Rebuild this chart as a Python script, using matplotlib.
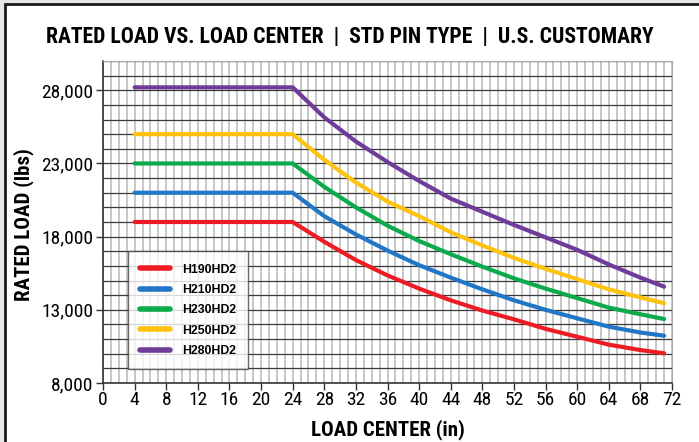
import matplotlib.pyplot as plt
from matplotlib.patches import Rectangle
from matplotlib.ticker import FuncFormatter, MultipleLocator
from matplotlib import font_manager

# Load center (in) sample points
load_center = [4, 24, 28, 32, 36, 40, 44, 48, 52, 56, 60, 64, 68, 71]

# Rated load (lbs) for each model
h190 = [19000, 19000, 17650, 16400, 15350, 14450, 13650, 12950, 12350, 11700, 11160, 10620, 10250, 10030]
h210 = [21000, 21000, 19400, 18150, 17050, 16050, 15200, 14400, 13650, 13000, 12420, 11850, 11450, 11230]
h230 = [23000, 23000, 21400, 20000, 18750, 17700, 16800, 15950, 15150, 14450, 13800, 13150, 12700, 12370]
h250 = [25000, 25000, 23250, 21700, 20400, 19400, 18300, 17400, 16550, 15800, 15100, 14400, 13850, 13450]
h280 = [28200, 28200, 26150, 24500, 23100, 21800, 20600, 19700, 18800, 17950, 17100, 16100, 15200, 14580]

models = ['H190HD2', 'H210HD2', 'H230HD2', 'H250HD2', 'H280HD2']
series = [h190, h210, h230, h250, h280]
colors = ['#ED1C24', '#2176C7', '#0BAA4B', '#FFC20E', '#6F3C9A']

# pick a narrow font if one is installed
names = {f.name for f in font_manager.fontManager.ttflist}
narrow = 'DejaVu Sans'
for cand in ['Roboto Condensed', 'Archivo Narrow', 'PT Sans Narrow', 'Fira Sans Condensed',
             'Barlow Condensed', 'IBM Plex Sans Condensed', 'Liberation Sans Narrow']:
    if cand in names:
        narrow = cand
        break

fig = plt.figure(figsize=(6.99, 4.42), dpi=100)
fig.patch.set_facecolor('#e6e6e6')

# outer white panel with black frame
fig.patches.append(Rectangle((5 / 699, -0.05), 1.0, 1 - 4 / 442 + 0.05,
                             transform=fig.transFigure, facecolor='white',
                             edgecolor='#1a1a1a', linewidth=2, zorder=-5))

ax = fig.add_axes([103 / 699, 1 - 383 / 442, 569 / 699, 322 / 442])
ax.set_facecolor('white')

# grid: every inch vertically, every 1000 lbs horizontally
for x in range(0, 73):
    ax.axvline(x, color='#bcbcbc', linewidth=1.2, zorder=1)
for y in range(8000, 30001, 1000):
    ax.axhline(y, color='#3a3a3a', linewidth=0.9, zorder=1)

for vals, name, c in zip(series, models, colors):
    ax.plot(load_center, vals, color=c, linewidth=3, label=name,
            solid_capstyle='round', solid_joinstyle='round', zorder=3)

ax.set_xlim(0, 72)
ax.set_ylim(8000, 30000)
ax.xaxis.set_major_locator(MultipleLocator(4))
ax.set_yticks([8000, 13000, 18000, 23000, 28000])
ax.yaxis.set_major_formatter(FuncFormatter(lambda v, p: f'{int(v):,}'))
ax.tick_params(direction='out', length=5, width=1, color='#333333', pad=2)
ax.tick_params(axis='x', pad=1)

for lab in ax.get_xticklabels() + ax.get_yticklabels():
    lab.set_fontfamily(narrow)
    lab.set_fontsize(14)

for side in ['top', 'right']:
    ax.spines[side].set_color('#aaaaaa')
for side in ['left', 'bottom']:
    ax.spines[side].set_color('#333333')
    ax.spines[side].set_linewidth(1.2)

ax.set_xlabel('LOAD CENTER (in)', fontfamily=narrow, fontweight='bold', fontsize=15, va='center')
ax.xaxis.set_label_coords(0.5, (383 - 430) / 322)
ax.set_ylabel('RATED LOAD (lbs)', fontfamily=narrow, fontweight='bold', fontsize=15,
              va='center', ha='center')
ax.yaxis.set_label_coords((24 - 103) / 569, (383 - 225) / 322)

fig.text(0.5, 1 - 37 / 442, 'RATED LOAD VS. LOAD CENTER  |  STD PIN TYPE  |  U.S. CUSTOMARY',
         ha='center', va='center', fontfamily=narrow, fontweight='bold', fontsize=15.6)

leg = ax.legend(loc='lower left', bbox_to_anchor=(0.044, 0.043), frameon=True, fancybox=False,
                prop={'family': 'Liberation Sans', 'weight': 'bold', 'size': 8.8},
                handlelength=2.4, handletextpad=1.0, labelspacing=0.68,
                borderpad=1.0, borderaxespad=0)
leg.get_frame().set_edgecolor('#444444')
leg.get_frame().set_linewidth(1)
leg.set_zorder(5)
for line in leg.get_lines():
    line.set_linewidth(4)

fig.savefig('out.png', dpi=100)
